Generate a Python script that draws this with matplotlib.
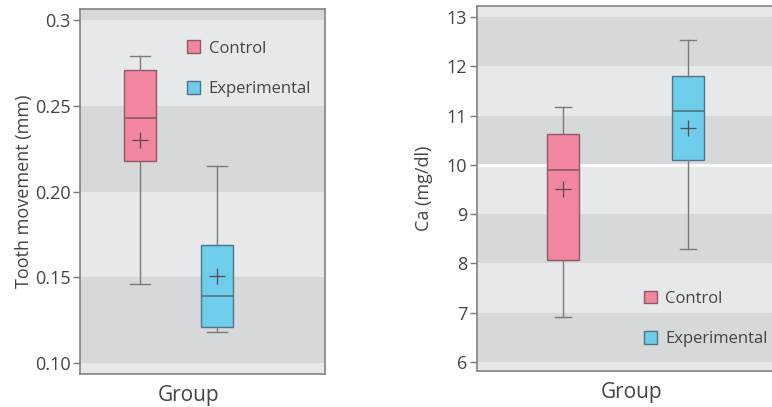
import matplotlib.pyplot as plt
from matplotlib.patches import Patch

plt.rcParams['font.family'] = ['Open Sans', 'DejaVu Sans']

groups = ["Control", "Experimental"]
colors = ["#f2869f", "#6dcdea"]
edges = ["#8a5a66", "#4f7584"]

# box summaries: whisker low, Q1, median, Q3, whisker high, mean
tooth_stats = [
    [0.146, 0.218, 0.243, 0.271, 0.279, 0.230],
    [0.118, 0.121, 0.139, 0.169, 0.215, 0.151],
]
ca_stats = [
    [6.91, 8.07, 9.89, 10.63, 11.18, 9.52],
    [8.30, 10.09, 11.10, 11.81, 12.53, 10.74],
]

tooth_ticks = [0.10, 0.15, 0.20, 0.25, 0.3]
tooth_ticklabels = ["0.10", "0.15", "0.20", "0.25", "0.3"]
ca_ticks = [6, 7, 8, 9, 10, 11, 12, 13]

light = "#e7e8ea"
dark = "#d7d8da"
grey = "#7a7a7a"
txt = "#444444"


def make_bxp(stats):
    out = []
    for s in stats:
        out.append({"whislo": s[0], "q1": s[1], "med": s[2], "q3": s[3],
                    "whishi": s[4], "mean": s[5], "fliers": []})
    return out


def bands(ax, ticks, ylim):
    edges_y = [ylim[0]] + list(ticks) + [ylim[1]]
    shade = False
    for i in range(len(edges_y) - 1):
        ax.axhspan(edges_y[i], edges_y[i + 1], color=dark if shade else light,
                   zorder=0, lw=0)
        shade = not shade


def draw_panel(ax, stats, ticks, ylim, xlim, width, cap, label):
    ax.set_xlim(*xlim)
    ax.set_ylim(*ylim)
    bands(ax, ticks, ylim)
    b = ax.bxp(make_bxp(stats), positions=[1, 2], widths=width,
               patch_artist=True, showmeans=True, meanline=False,
               showfliers=False, zorder=3,
               whiskerprops=dict(color=grey, lw=1.0),
               capprops=dict(color=grey, lw=1.0),
               meanprops=dict(marker="+", markersize=11, markeredgecolor="#5a4a50",
                              markeredgewidth=0.9))
    for i, box in enumerate(b["boxes"]):
        box.set_facecolor(colors[i])
        box.set_edgecolor(edges[i])
        box.set_linewidth(1.0)
        b["medians"][i].set_color(edges[i])
        b["medians"][i].set_linewidth(1.2)
    for c in b["caps"]:
        xd = c.get_xdata()
        mid = (xd[0] + xd[1]) / 2
        c.set_xdata([mid - cap, mid + cap])
    ax.set_yticks(ticks)
    ax.set_xticks([])
    ax.tick_params(axis="y", length=5, width=1, color=grey, labelsize=13,
                   labelcolor=txt, pad=2)
    for sp in ax.spines.values():
        sp.set_color("#828282")
        sp.set_linewidth(1.2)
    ax.set_ylabel(label, fontsize=13, color=txt)
    ax.set_xlabel("Group", fontsize=15, color=txt)


fig = plt.figure(figsize=(7.72, 4.07), dpi=100)
W, H = 772, 407

ax1 = fig.add_axes([80 / W, 1 - 374 / H, 245 / W, 365 / H])
draw_panel(ax1, tooth_stats, tooth_ticks, (0.0936, 0.3064), (0.22, 3.40),
           0.415, 0.13, "Tooth movement (mm)")
ax1.set_yticklabels(tooth_ticklabels)
ax1.xaxis.set_label_coords(0.445, -0.03)
ax1.yaxis.set_label_coords(-0.19, 0.5)

ax2 = fig.add_axes([477 / W, 1 - 371 / H, 313 / W, 365 / H])
draw_panel(ax2, ca_stats, ca_ticks, (5.82, 13.22), (0.31, 2.82),
           0.257, 0.064, "Ca (mg/dl)")
ax2.axhline(10, color="white", lw=2, zorder=1)
ax2.xaxis.set_label_coords(0.495, -0.03)
ax2.yaxis.set_label_coords(-0.14, 0.5)

handles = [Patch(facecolor=colors[i], edgecolor=edges[i], label=groups[i])
           for i in range(2)]
ax1.legend(handles=handles, loc="upper left", bbox_to_anchor=(0.375, 0.955),
           frameon=False, fontsize=12, handlelength=0.8, handleheight=0.8,
           handletextpad=0.5, labelspacing=1.45, labelcolor=txt)
ax2.legend(handles=handles, loc="lower left", bbox_to_anchor=(0.485, 0.024),
           frameon=False, fontsize=12, handlelength=0.8, handleheight=0.8,
           handletextpad=0.5, labelspacing=1.45, labelcolor=txt)

fig.savefig("out.png", dpi=100)
